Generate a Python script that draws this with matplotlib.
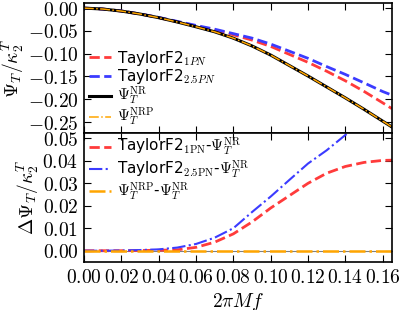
import numpy as np
import matplotlib
matplotlib.use('Agg')
import matplotlib.pyplot as plt
from matplotlib.ticker import FuncFormatter

plt.rcParams['mathtext.fontset'] = 'cm'
plt.rcParams['font.family'] = ['DejaVu Sans']

# frequency grid 2*pi*M*f
freq = [0.0, 0.01, 0.02, 0.03, 0.04, 0.05, 0.06, 0.07, 0.08,
        0.09, 0.10, 0.11, 0.12, 0.13, 0.14, 0.15, 0.16, 0.165]

# top panel: tidal phase
psi_nr = [0.0, -0.002, -0.0065, -0.013, -0.021, -0.0305, -0.041, -0.052, -0.066,
          -0.083, -0.103, -0.126, -0.149, -0.173, -0.197, -0.222, -0.248, -0.261]
psi_nrp = [0.0, -0.002, -0.0065, -0.013, -0.021, -0.0305, -0.041, -0.052, -0.066,
           -0.083, -0.103, -0.126, -0.149, -0.173, -0.197, -0.222, -0.248, -0.261]
psi_1pn = [0.0, -0.002, -0.0065, -0.0129, -0.0208, -0.0301, -0.0395, -0.0482, -0.0585,
           -0.0702, -0.084, -0.1015, -0.119, -0.1385, -0.1595, -0.1827, -0.2078, -0.2207]
psi_25pn = [0.0, -0.002, -0.0064, -0.0127, -0.0204, -0.0291, -0.038, -0.0462, -0.056,
            -0.0658, -0.0789, -0.0945, -0.1102, -0.1283, -0.1455, -0.164, -0.183, -0.191]

# bottom panel: differences to NR
d_1pn = [0.0, 0.0, 0.0, 0.0001, 0.0002, 0.0004, 0.0015, 0.0038, 0.0075,
         0.0128, 0.019, 0.0245, 0.030, 0.0345, 0.0375, 0.0393, 0.0402, 0.0403]
d_25pn = [0.0, 0.0, 0.0001, 0.0003, 0.0006, 0.0014, 0.0030, 0.0058, 0.0100,
          0.0172, 0.0241, 0.0315, 0.0388, 0.0447, 0.0515, 0.058, 0.065, 0.070]
d_nrp = [0.0] * len(freq)

top_yticks = [0.0, -0.05, -0.10, -0.15, -0.20, -0.25]
bot_yticks = [0.0, 0.01, 0.02, 0.03, 0.04, 0.05]
xticks = [0.0, 0.02, 0.04, 0.06, 0.08, 0.10, 0.12, 0.14, 0.16]

red = '#ff3b3b'
blue = '#3b3bff'
orange = '#ffa500'

fmt = FuncFormatter(lambda v, p: r'$%.2f$' % v)
leg_kw = dict(frameon=False, fontsize=11, handlelength=1.5, borderpad=0.1,
              handletextpad=0.35, borderaxespad=0.2)

fig = plt.figure(figsize=(3.99, 3.10), dpi=100)
ax1 = fig.add_axes([0.2105, 0.571, 0.772, 0.419])
ax2 = fig.add_axes([0.2105, 0.155, 0.772, 0.416])

ax1.plot(freq, psi_1pn, '--', color=red, lw=2, label=r'TaylorF2$_{1PN}$')
ax1.plot(freq, psi_25pn, '--', color=blue, lw=2, label=r'TaylorF2$_{2.5PN}$')
ax1.plot(freq, psi_nr, '-', color='black', lw=2.2, label=r'$\Psi_T^{\rm NR}$')
ax1.plot(freq, psi_nrp, '-.', color=orange, lw=1.1, label=r'$\Psi_T^{\rm NRP}$')
ax1.set_xlim(0, 0.165)
ax1.set_ylim(-0.274, 0.011)
ax1.set_yticks(top_yticks)
ax1.set_xticks(xticks)
ax1.set_xticklabels([])
ax1.yaxis.set_major_formatter(fmt)
ax1.set_ylabel(r'$\Psi_T/\kappa^T_2$', fontsize=14, labelpad=1)
ax1.legend(loc='lower left', bbox_to_anchor=(0.0, 0.0), labelspacing=-0.05,
           **leg_kw)

ax2.axhline(0, color='gray', lw=0.8)
ax2.plot(freq, d_1pn, '--', color=red, lw=2,
         label=r'TaylorF2$_{\rm 1PN}$-$\Psi_T^{\rm NR}$')
ax2.plot(freq, d_25pn, '-.', color=blue, lw=1.5,
         label=r'TaylorF2$_{\rm 2.5PN}$-$\Psi_T^{\rm NR}$')
ax2.plot(freq, d_nrp, '-.', color=orange, lw=1.8,
         label=r'$\Psi_T^{\rm NRP}$-$\Psi_T^{\rm NR}$')
ax2.set_xlim(0, 0.165)
ax2.set_ylim(-0.005, 0.0524)
ax2.set_yticks(bot_yticks)
ax2.set_xticks(xticks)
ax2.xaxis.set_major_formatter(fmt)
ax2.yaxis.set_major_formatter(fmt)
ax2.set_ylabel(r'$\Delta\Psi_T/\kappa^T_2$', fontsize=14, labelpad=1)
ax2.set_xlabel(r'$2\pi M f$', fontsize=14, labelpad=3)
ax2.legend(loc='upper left', bbox_to_anchor=(0.0, 1.01), labelspacing=0.02,
           **leg_kw)

for ax in (ax1, ax2):
    ax.tick_params(direction='in', top=True, right=True, length=5,
                   labelsize=14, width=0.8, pad=4)
    for s in ax.spines.values():
        s.set_linewidth(1.2)

fig.savefig('out.png', dpi=100)
